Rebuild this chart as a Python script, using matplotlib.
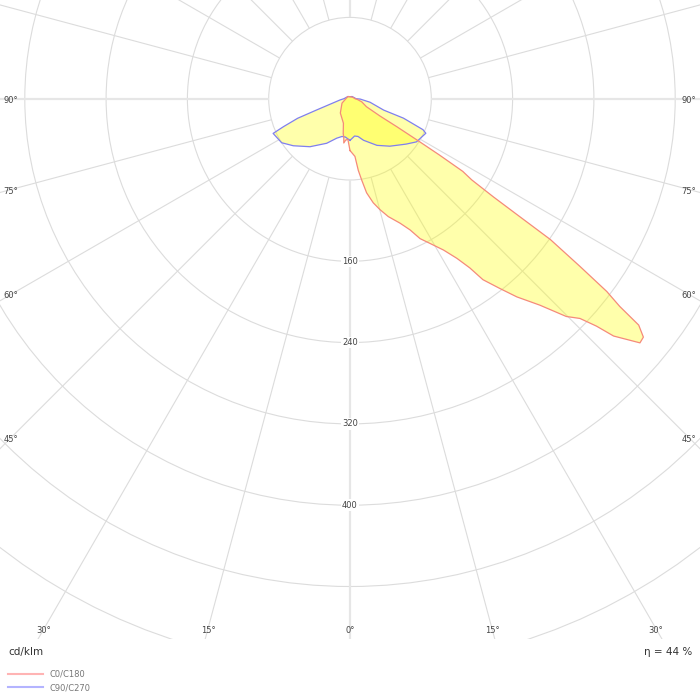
import numpy as np
import matplotlib
matplotlib.use("Agg")
import matplotlib.pyplot as plt
from matplotlib.patches import Circle
from matplotlib.lines import Line2D

# C0 / C180 plane (red), angles from nadir in degrees, values in cd/klm
c0_ang = [0, 4.9, 6.6, 8.2, 10, 12.6, 15.1, 18, 21.9, 24.6, 26.6, 29, 31.7, 33.8, 35.3,
          36.3, 38.3, 40.1, 42.6, 44.8, 46.3, 47.3, 48, 49.9, 50.9, 51.9, 52.4, 53.1,
          53.9, 54.9, 55.2, 55.6, 56.3, 57.2, 57.8, 58.3, 59.1, 60, 64, 75, 85, 90,
          120, 150, 180]
c0_val = [51, 57, 71, 81, 94, 105, 113, 122, 132, 142, 154, 163, 175, 189, 204,
          221, 238, 255, 276, 302, 313, 330, 349, 373, 372, 361, 335, 316,
          280, 241, 204, 171, 144, 132, 104, 80, 54, 34, 18, 12, 7, 5,
          3, 2, 2]
c180_ang = [0, 3, 6, 8, 9, 11, 15, 34, 61, 90, 135, 180]
c180_val = [51, 40, 41, 44, 39, 35, 25, 17, 9, 4, 3, 2]

# C90 / C270 plane (blue)
c90_ang = [0, 7, 12, 18, 30, 40, 51, 57, 65.5, 67, 70, 71.3, 80, 88, 90, 135, 180]
c90_val = [41, 37, 38, 43, 53, 61, 71, 78, 82, 78, 56, 35, 20, 10, 6, 3, 2]
c270_ang = [0, 7, 12, 18.6, 27.6, 39.8, 50.3, 57.2, 65.7, 67.2, 69.5, 71.3, 82.6, 90, 135, 180]
c270_val = [41, 38, 38, 41, 49.5, 61.5, 72.5, 80, 83, 71, 55, 35, 10, 6, 3, 2]

rings = [80, 160, 240, 320, 400, 480, 560, 640]
ring_labels = [160, 240, 320, 400]
angle_labels = [0, 15, 30, 45, 60, 75, 90]
efficiency = 44

grid_col = "#dcdcdc"
txt_col = "#444444"


def to_xy(ang_r, val_r, ang_l, val_l):
    a = np.radians(np.concatenate([ang_r, ang_l[::-1]]))
    v = np.concatenate([val_r, val_l[::-1]])
    sign = np.concatenate([np.ones(len(ang_r)), -np.ones(len(ang_l))])
    return sign * v * np.sin(a), -v * np.cos(a)


fig = plt.figure(figsize=(7, 7), dpi=100)
ax = fig.add_axes([0, 61 / 700, 1, 639 / 700])
s = 81.3 / 80          # pixels per cd/klm
cy = 98.7              # centre, px from top
ax.set_xlim(-350 / s, 350 / s)
ax.set_ylim(-(639 - cy) / s, cy / s)
ax.set_aspect("equal")
ax.axis("off")

# rings
for r in rings:
    ax.add_patch(Circle((0, 0), r, fill=False, ec=grid_col, lw=0.8, zorder=1))

# radial lines
for a in range(0, 360, 15):
    t = np.radians(a)
    lw = 1.6 if a % 90 == 0 else 0.8
    col = "#e6e6e6" if a % 90 == 0 else grid_col
    ax.plot([80 * np.sin(t), 900 * np.sin(t)], [-80 * np.cos(t), -900 * np.cos(t)],
            color=col, lw=lw, zorder=1, solid_capstyle="butt")

# ring values
for r in ring_labels:
    ax.text(0, -r, str(r), ha="center", va="center", fontsize=6, color=txt_col, zorder=2,
            bbox=dict(boxstyle="square,pad=0.15", fc="white", ec="none"))

# angle labels along the frame
xside = 339 / s
ybot = -(629 - cy) / s
for a in angle_labels:
    t = np.radians(a)
    for sgn in ([1] if a == 0 else [-1, 1]):
        cands = []
        if np.sin(t) > 1e-9:
            cands.append(xside / np.sin(t))
        if np.cos(t) > 1e-9:
            cands.append(-ybot / np.cos(t))
        d = min(cands)
        ax.text(sgn * d * np.sin(t), -d * np.cos(t) - 1.5, f"{a}°", ha="center", va="center",
                fontsize=6, color=txt_col, zorder=2)

# curves
bx, by = to_xy(c90_ang, c90_val, c270_ang, c270_val)
rx, ry = to_xy(c0_ang, c0_val, c180_ang, c180_val)
ax.fill(bx, by, color="#ffff00", alpha=0.33, lw=0, zorder=3)
ax.fill(rx, ry, color="#ffff00", alpha=0.33, lw=0, zorder=3)
ax.plot(np.append(bx, bx[0]), np.append(by, by[0]), color="#7f7fef", lw=0.9, zorder=4)
ax.plot(np.append(rx, rx[0]), np.append(ry, ry[0]), color="#f58a7a", lw=0.9, zorder=4)

# texts and legend
fig.text(8 / 700, 1 - 652 / 700, "cd/klm", fontsize=7.5, color="#333333", va="center")
fig.text(692 / 700, 1 - 652 / 700, f"η = {efficiency} %", fontsize=7.5, color="#333333",
         va="center", ha="right")
handles = [Line2D([], [], color="#ffb4b4", lw=1.5), Line2D([], [], color="#b4b4ff", lw=1.5)]
fig.legend(handles, ["C0/C180", "C90/C270"], loc="upper left",
           bbox_to_anchor=(0 / 700, 1 - 662 / 700), frameon=False, fontsize=6,
           handlelength=4.3, handletextpad=0.7, labelspacing=0.55, borderpad=0.4,
           labelcolor="#777777")

fig.savefig("out.png", dpi=100)
